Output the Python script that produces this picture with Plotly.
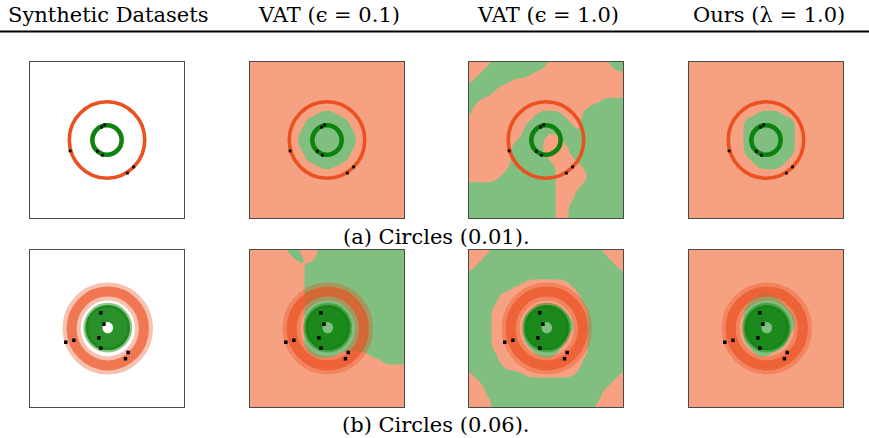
import numpy as np
import plotly.graph_objects as go

W, H = 869, 438

col_titles = ["Synthetic Datasets", "VAT (ϵ = 0.1)", "VAT (ϵ = 1.0)", "Ours (λ = 1.0)"]
row_captions = ["(a) Circles (0.01).", "(b) Circles (0.06)."]

# ring / cloud geometry (data units)
ring_a_outer_r = 0.98
ring_a_inner_r = 0.38
cloud_b_outer_r = 0.94
cloud_b_inner_r = 0.36

# labelled points
lab_a_x = [-0.96, -0.14, -0.06, -0.25, -0.12, 0.53, 0.69]
lab_a_y = [-0.28, 0.33, 0.39, -0.29, -0.39, -0.85, -0.69]
lab_b_x = [-1.07, -0.86, -0.16, -0.08, -0.21, -0.16, 0.55, 0.48]
lab_b_y = [-0.35, -0.30, 0.40, 0.11, -0.24, -0.50, -0.61, -0.77]

# decision regions (25x25 lattice over [-2, 2]^2),
# rows top -> bottom, 'G' = green class, '.' = orange class
grid_a_vat01 = ["."*25]*8 + [
    "...........GGG...........",
    ".........GGGGGGG.........",
    ".........GGGGGGG.........",
    "........GGGGGGGGG........",
    "........GGGGGGGGG........",
    "........GGGGGGGGG........",
    ".........GGGGGGG.........",
    ".........GGGGGGG.........",
    "...........GGG...........",
] + ["."*25]*8

grid_a_vat10 = [
    "....GGGGGGGGG.........GGG",
    "...GGGGGGGGG...........GG",
    "..GGGGGGGG...............",
    ".GGGGGG..................",
    "GGGGG....................",
    "GGGG.....................",
    "GG...................GGGG",
    "G..................GGGGGG",
    "G..........GGGG...GGGGGGG",
    "..........GGGGGG..GGGGGGG",
    ".........GGGGGGGG.GGGGGGG",
    ".........GGGG.GGG.GGGGGGG",
    "........GGGG...GGGGGGGGGG",
    ".......GGGGG....GGGGGGGGG",
    ".......GGGGG....GGGGGGGGG",
    ".......GGGGGG....GGGGGGGG",
    ".......GGGGGGG....GGGGGGG",
    "......GGGGGGGG.....GGGGGG",
    ".....GGGGGGGGG.....GGGGGG",
    "GGGGGGGGGGGGGG....GGGGGGG",
    "GGGGGGGGGGGGGG...GGGGGGGG",
    "GGGGGGGGGGGGGG...GGGGGGGG",
    "GGGGGGGGGGGGGG..GGGGGGGGG",
    "GGGGGGGGGGGGGG..GGGGGGGGG",
    "GGGGGGGGGGGGGG..GGGGGGGGG",
]

grid_a_ours = ["."*25]*8 + [
    "...........GGGG..........",
    ".........GGGGGGGG........",
    ".........GGGGGGGG........",
    ".........GGGGGGGG........",
    ".........GGGGGGGG........",
    ".........GGGGGGGG........",
    ".........GGGGGGGG........",
    "..........GGGGGG.........",
    "...........GGGG..........",
] + ["."*25]*8

grid_b_vat01 = [
    "......GG...GGGGGGGGGGGGGG",
    ".......GG..GGGGGGGGGGGGGG",
    "........G.GGGGGGGGGGGGGGG",
    ".........GGGGGGGGGGGGGGGG",
] + [".........GGGGGGGGGGGGGGGG"]*12 + [
    "..........GGGG.....GGGGGG",
    ".....................GGGG",
] + ["."*25]*7

grid_b_vat10 = [
    "....GGGGGGGGGGGGGGGGG....",
    "...GGGGGGGGGGGGGGGGGGG...",
    "..GGGGGGGGGGGGGGGGGGGGG..",
    ".GGGGGGGGGGGGGGGGGGGGGGG.",
    "GGGGGGGGGGGGGGGGGGGGGGGGG",
    "GGGGGGGGG.......GGGGGGGGG",
    "GGGGGGG..........GGGGGGGG",
    "GGGGG.............GGGGGGG",
    "GGGGG.............GGGGGGG",
    "GGGG.......GGGG....GGGGGG",
    "GGGG.....GGGGGGG...GGGGGG",
    "GGGG.....GGGGGGGG..GGGGGG",
    "GGGG.....GGGGGGGG..GGGGGG",
    "GGGG.....GGGGGGG...GGGGGG",
    "GGGG.....GGGGGG....GGGGGG",
    "GGGG......GGGGG....GGGGGG",
    "GGGGG......GGG.....GGGGGG",
    "GGGGG.............GGGGGGG",
    "GGGGGG............GGGGGGG",
    ".GGGGGGGG........GGGGGGG.",
    "..GGGGGGGGGGGGGGGGGGGGG..",
    "...GGGGGGGGGGGGGGGGGGG...",
    "...GGGGGGGGGGGGGGGGGG....",
    "....GGGGGGGGGGGGGGGGG....",
    "....GGGGGGGGGGGGGGGG.....",
]

grid_b_ours = ["."*25]*7 + [
    "...........GGG...........",
    "..........GGGGG..........",
    ".........GGGGGGG.........",
    ".........GGGGGGGG........",
    ".........GGGGGGGG........",
    ".........GGGGGGGG........",
    ".........GGGGGGG.........",
    ".........GGGGGGG.........",
    "..........GGGGG..........",
    "...........GG............",
] + ["."*25]*8

# ---------------- styling ----------------
SALMON = "#F6A282"
LGREEN = "#80BF80"
ORANGE = "#EA5020"
DGREEN = "#0E820E"
FONT = "DejaVu Serif"
FS = 21

col_px = [(30, 184), (250, 404), (469, 623), (689, 843)]
row_px = [(62, 218), (250, 407)]
RANGE = [-2, 2]

grids = {
    (0, 1): grid_a_vat01, (0, 2): grid_a_vat10, (0, 3): grid_a_ours,
    (1, 1): grid_b_vat01, (1, 2): grid_b_vat10, (1, 3): grid_b_ours,
}

gx = np.linspace(RANGE[0], RANGE[1], 25)
fine = np.linspace(RANGE[0], RANGE[1], 97)
_k = np.arange(-9, 10)
_w = np.exp(-_k**2 / (2 * 2.8**2))
_w /= _w.sum()


def region_field(g):
    """Turn the class lattice into a smooth field for rendering rounded boundaries."""
    z = np.array([[1.0 if ch == "G" else 0.0 for ch in row] for row in g])
    zx = np.array([np.interp(fine, gx, row) for row in z])
    zf = np.array([np.interp(fine, gx, zx[:, j]) for j in range(zx.shape[1])]).T
    p = np.pad(zf, 9, mode="edge")
    t = np.apply_along_axis(lambda m: np.convolve(m, _w, mode="valid"), 1, p)
    return np.apply_along_axis(lambda m: np.convolve(m, _w, mode="valid"), 0, t)


fig = go.Figure()
layout = dict(width=W, height=H, margin=dict(l=0, r=0, t=0, b=0),
              paper_bgcolor="white", plot_bgcolor="white", showlegend=False)
colorscale = [[0, SALMON], [0.5, SALMON], [0.5, LGREEN], [1, LGREEN]]

shapes = []
idx = 0
for r in range(2):
    for c in range(4):
        idx += 1
        sfx = "" if idx == 1 else str(idx)
        xa, ya = "x" + sfx, "y" + sfx
        x0, x1 = col_px[c]
        y0, y1 = row_px[r]
        axstyle = dict(range=RANGE, showticklabels=False, showgrid=False, zeroline=False,
                       showline=True, mirror=True, linecolor="#4a4a4a", linewidth=1,
                       ticks="", fixedrange=True)
        layout["xaxis" + sfx] = dict(domain=[x0 / W, x1 / W], anchor=ya, **axstyle)
        layout["yaxis" + sfx] = dict(domain=[1 - y1 / H, 1 - y0 / H], anchor=xa, **axstyle)

        if (r, c) in grids:
            fig.add_trace(go.Contour(
                x=fine, y=fine[::-1], z=region_field(grids[(r, c)]), xaxis=xa, yaxis=ya,
                zmin=0, zmax=1, colorscale=colorscale, showscale=False, hoverinfo="skip",
                contours=dict(start=0.5, end=0.5, size=1, coloring="fill", showlines=False),
                line=dict(width=0)))

        def circ(rad, width_px, color, cx=0.0, cy=0.0):
            shapes.append(dict(type="circle", xref=xa, yref=ya,
                               x0=cx - rad, x1=cx + rad, y0=cy - rad, y1=cy + rad,
                               line=dict(color=color, width=width_px),
                               fillcolor="rgba(0,0,0,0)", layer="above"))

        if r == 0:
            circ(ring_a_outer_r, 3.6, ORANGE)
            circ(ring_a_inner_r, 4.6, DGREEN)
            lx, ly, hs = lab_a_x, lab_a_y, 0.036
        else:
            circ(cloud_b_outer_r, 18, "rgba(234,80,32,0.35)", 0.02)
            circ(cloud_b_outer_r, 10, "rgba(234,80,32,0.65)", 0.02)
            circ(cloud_b_inner_r + 0.21, 5, "rgba(14,130,14,0.45)", 0.02, 0.02)
            circ(cloud_b_inner_r, 17, "rgba(14,130,14,0.88)", 0.02, 0.02)
            lx, ly, hs = lab_b_x, lab_b_y, 0.045
        for px_, py_ in zip(lx, ly):
            shapes.append(dict(type="rect", xref=xa, yref=ya,
                               x0=px_ - hs, x1=px_ + hs, y0=py_ - hs, y1=py_ + hs,
                               line=dict(width=0), fillcolor="black", layer="above"))

# header rule
shapes.append(dict(type="line", xref="paper", yref="paper", x0=0, x1=1,
                   y0=1 - 31.5 / H, y1=1 - 31.5 / H, line=dict(color="black", width=2)))

annotations = []
for c, t in enumerate(col_titles):
    cx = [108, 329, 548, 769][c]
    annotations.append(dict(text=t, x=cx / W, y=1 - 15 / H, xref="paper", yref="paper",
                            showarrow=False, xanchor="center", yanchor="middle",
                            font=dict(family=FONT, size=FS, color="black")))
for r, t in enumerate(row_captions):
    cy = [237, 425][r]
    annotations.append(dict(text=t, x=436 / W, y=1 - cy / H, xref="paper", yref="paper",
                            showarrow=False, xanchor="center", yanchor="middle",
                            font=dict(family=FONT, size=FS, color="black")))

layout["shapes"] = shapes
layout["annotations"] = annotations
fig.update_layout(**layout)
fig.write_html("out.html")
